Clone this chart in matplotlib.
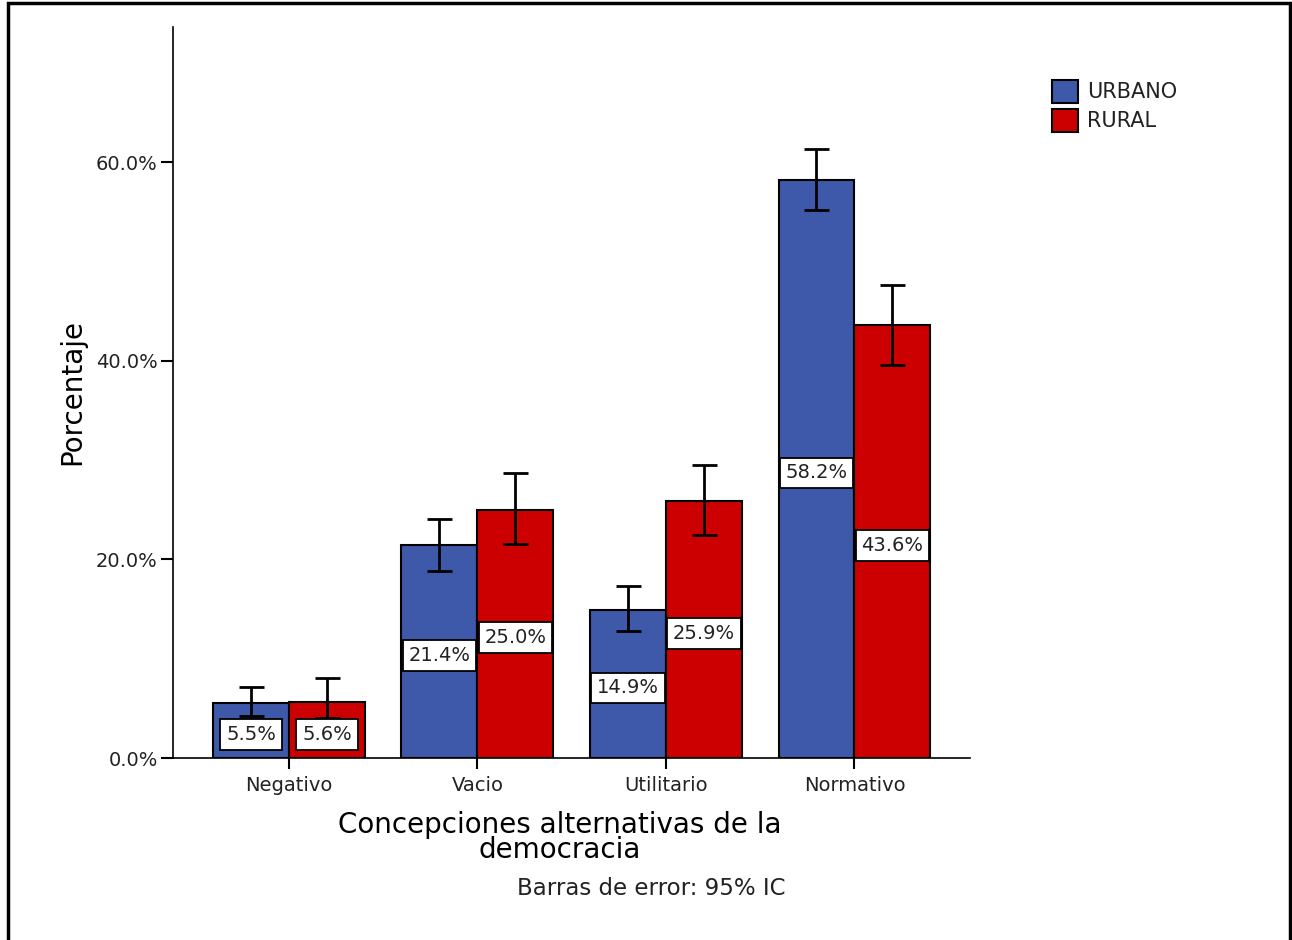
import matplotlib.pyplot as plt
import numpy as np
from matplotlib.patches import Rectangle

categories = ["Negativo", "Vacio", "Utilitario", "Normativo"]
urbano = [5.5, 21.4, 14.9, 58.2]
rural = [5.6, 25.0, 25.9, 43.6]
# 95% IC bounds
urbano_lo = [4.2, 18.8, 12.8, 55.2]
urbano_hi = [7.1, 24.1, 17.3, 61.3]
rural_lo = [4.0, 21.5, 22.5, 39.6]
rural_hi = [8.1, 28.7, 29.5, 47.6]
yticks = [0, 20, 40, 60]

blue = '#3E58AA'
red = '#CC0000'
txt = '#222222'

fig = plt.figure(figsize=(12.92, 9.40), dpi=100)
ax = fig.add_axes([0.1339, 0.1936, 0.7508 - 0.1339, 0.9713 - 0.1936])

x = np.arange(len(categories))
w = 0.403

def draw(xpos, vals, lo, hi, color):
    ax.bar(xpos, vals, width=w, color=color, edgecolor='black', linewidth=1.5, zorder=2)
    err = [np.array(vals) - np.array(lo), np.array(hi) - np.array(vals)]
    ax.errorbar(xpos, vals, yerr=err, fmt='none', ecolor='black', elinewidth=2,
                capsize=9, capthick=2, zorder=3)
    for xi, v in zip(xpos, vals):
        ax.text(xi, v / 2 - 0.4, f"{v:.1f}%", ha='center', va='center', fontsize=14,
                color=txt, zorder=4,
                bbox=dict(boxstyle='square,pad=0.3', facecolor='white', edgecolor='black', linewidth=1.3))

draw(x - w / 2, urbano, urbano_lo, urbano_hi, blue)
draw(x + w / 2, rural, rural_lo, rural_hi, red)

ax.set_xlim(-0.615, 3.613)
ax.set_ylim(0, 73.6)
ax.set_yticks(yticks)
ax.set_yticklabels([f"{t:.1f}%" for t in yticks], fontsize=14, color=txt)
ax.set_xticks(x)
ax.set_xticklabels(categories, fontsize=14, color=txt)
ax.tick_params(axis='y', length=9, width=1.5, pad=2)
ax.tick_params(axis='x', length=8, width=1.5, pad=5)
for s in ['top', 'right']:
    ax.spines[s].set_visible(False)
ax.spines['left'].set_linewidth(1.2)
ax.spines['bottom'].set_linewidth(1.2)

ax.set_ylabel("Porcentaje", fontsize=20, labelpad=7)
ax.set_xlabel("Concepciones alternativas de la\ndemocracia", fontsize=20, linespacing=0.85)
ax.xaxis.set_label_coords(0.485, -0.073)
ax.xaxis.label.set_va('top')

fig.text(0.504, 0.0553, "Barras de error: 95% IC", fontsize=16.5, ha='center', va='center', color=txt)

# legend
handles = [Rectangle((0, 0), 1, 1, facecolor=blue, edgecolor='black', linewidth=1.5),
           Rectangle((0, 0), 1, 1, facecolor=red, edgecolor='black', linewidth=1.5)]
fig.legend(handles, ["URBANO", "RURAL"], loc='upper left', bbox_to_anchor=(0.800, 0.935),
           frameon=False, fontsize=15, handlelength=1.25, handleheight=1.3,
           handletextpad=0.4, labelspacing=0.3, labelcolor=txt)

# outer frame
fig.add_artist(Rectangle((0.0062, -0.01), 0.9922, 1.007, transform=fig.transFigure,
                         fill=False, edgecolor='black', linewidth=2.5))

fig.savefig("out.png", dpi=100)
